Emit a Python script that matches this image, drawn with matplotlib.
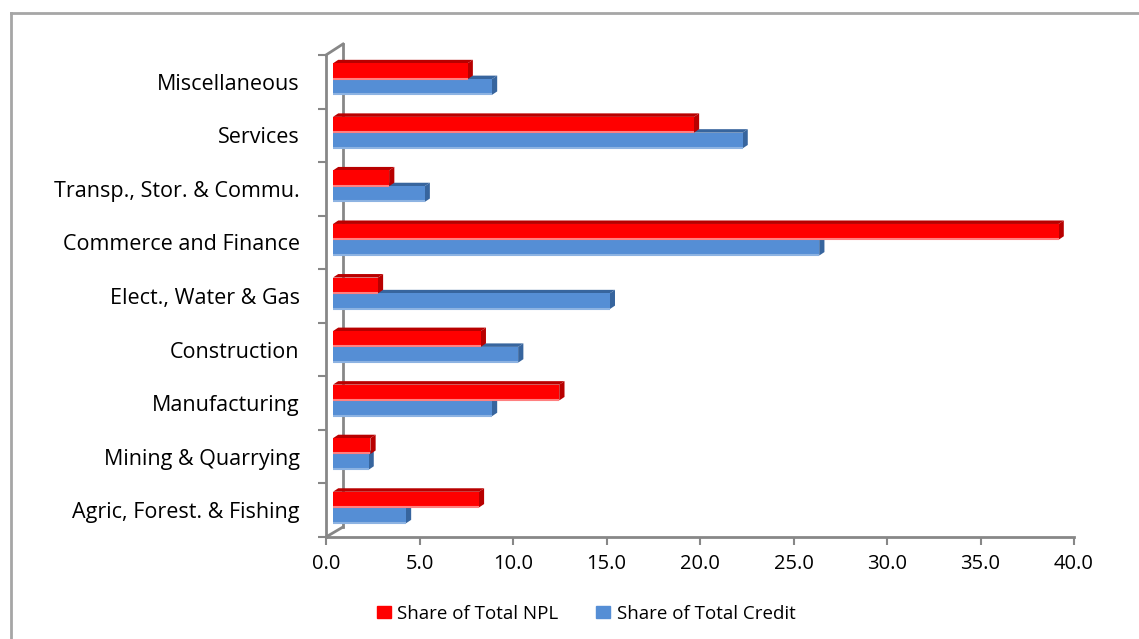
import matplotlib.pyplot as plt
import matplotlib.transforms as mtransforms
from matplotlib.patches import Rectangle, Polygon
from matplotlib.lines import Line2D

# sectors listed bottom to top
sectors = ["Agric, Forest. & Fishing", "Mining & Quarrying", "Manufacturing",
           "Construction", "Elect., Water & Gas", "Commerce and Finance",
           "Transp., Stor. & Commu.", "Services", "Miscellaneous"]
npl_share = [7.8, 2.0, 12.1, 7.9, 2.4, 38.8, 3.0, 19.3, 7.2]
credit_share = [3.9, 1.9, 8.5, 9.9, 14.8, 26.0, 4.9, 21.9, 8.5]
xticks = [0, 5, 10, 15, 20, 25, 30, 35, 40]

red, red_dark, red_light = "#FF0000", "#B80000", "#FF8080"
blue, blue_dark, blue_light = "#558ED5", "#37659E", "#8DB3E2"
grey = "#878787"

plt.rcParams["font.family"] = ["Open Sans", "DejaVu Sans"]

W, H = 1139, 639
fig = plt.figure(figsize=(W / 100, H / 100), dpi=100)
ax = fig.add_axes([326 / W, (H - 537) / H, (1074 - 326) / W, (537 - 55) / H])
ax.patch.set_visible(False)

# bars sit a few pixels in front of the back wall
bar_tr = ax.transData + mtransforms.ScaledTranslation(7 / 100, 0, fig.dpi_scale_trans)

# extrusion depth of the bars in data units
dx, dy = 0.28, 0.065
bar_h = 0.295


def bar3d(y0, val, face, dark, light):
    ax.add_patch(Polygon([(0, y0 + bar_h), (val, y0 + bar_h),
                          (val + dx, y0 + bar_h + dy), (dx, y0 + bar_h + dy)],
                         closed=True, facecolor=dark, edgecolor="none", zorder=3,
                         transform=bar_tr))
    ax.add_patch(Polygon([(val, y0), (val + dx, y0 + dy),
                          (val + dx, y0 + bar_h + dy), (val, y0 + bar_h)],
                         closed=True, facecolor=dark, edgecolor="none", zorder=3,
                         transform=bar_tr))
    ax.add_patch(Rectangle((0, y0), val, bar_h, facecolor=face,
                           edgecolor="none", zorder=4, transform=bar_tr))
    ax.plot([0, val], [y0 + 0.01, y0 + 0.01], color=light, lw=1.5, zorder=4,
            solid_capstyle="butt", transform=bar_tr)


for i in range(len(sectors)):
    bar3d(i - 0.245, credit_share[i], blue, blue_dark, blue_light)
    bar3d(i + 0.05, npl_share[i], red, red_dark, red_light)

ax.set_xlim(0, 40)
ax.set_ylim(-0.5, len(sectors) - 0.5)
ax.set_xticks(xticks)
ax.set_xticklabels([f"{v:.1f}" for v in xticks], fontsize=14.5)
ax.set_yticks(range(len(sectors)))
ax.set_yticklabels(sectors, fontsize=15.5)
ax.set_yticks([i - 0.5 for i in range(len(sectors) + 1)], minor=True)
ax.tick_params(axis="y", which="major", length=0, pad=19)
ax.tick_params(axis="y", which="minor", length=6, width=1.5, color=grey)
ax.tick_params(axis="x", length=6, width=1.5, color=grey, pad=6)
for side in ["top", "right"]:
    ax.spines[side].set_visible(False)
for side in ["left", "bottom"]:
    ax.spines[side].set_color(grey)
    ax.spines[side].set_linewidth(2)

# back wall edges of the 3d frame, in pixels, kept behind the bars
frame_lines = [([343, 343], [44, 527]), ([326, 343], [537, 527]), ([326, 343], [55, 44])]
for xs, ys in frame_lines:
    fig.add_artist(Line2D([x / W for x in xs], [1 - y / H for y in ys],
                          color=grey, lw=2, zorder=-1))

# legend
handles = [Rectangle((0, 0), 1, 1, color=red), Rectangle((0, 0), 1, 1, color=blue)]
fig.legend(handles, ["Share of Total NPL", "Share of Total Credit"], loc="center",
           bbox_to_anchor=(586 / W, 1 - 614 / H), ncol=2, frameon=False,
           fontsize=13.5, handlelength=0.75, handleheight=0.6, columnspacing=2.0,
           handletextpad=0.35)

# outer chart border
fig.add_artist(Line2D([11 / W, 1.01], [1 - 13 / H, 1 - 13 / H], color="#A6A6A6", lw=2))
fig.add_artist(Line2D([11 / W, 11 / W], [1 - 13 / H, -0.01], color="#A6A6A6", lw=2))

fig.savefig("out.png", dpi=100)
